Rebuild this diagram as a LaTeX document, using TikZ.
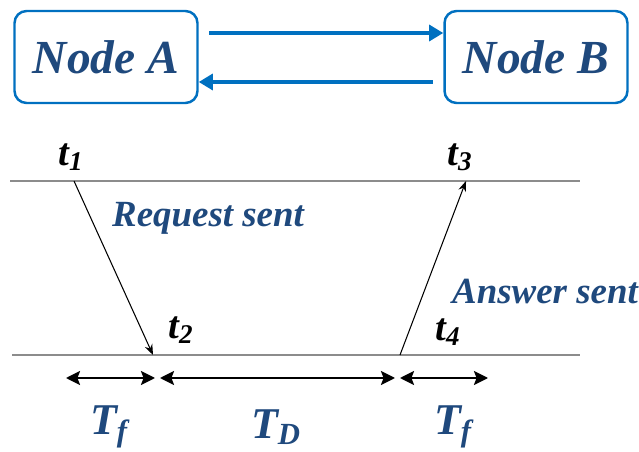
\documentclass[tikz,border=0pt]{standalone}
\usepackage{fontspec}
\setmainfont{Liberation Serif}
\usetikzlibrary{arrows.meta}
\definecolor{boxblue}{RGB}{0,112,192}
\definecolor{txtblue}{RGB}{31,73,125}
\tikzset{
  nodebox/.style={draw=boxblue,line width=1.4pt,rounded corners=0.24cm,fill=white,
    minimum width=3.66cm,minimum height=1.84cm,text=txtblue,
    font=\fontsize{27}{30}\selectfont\bfseries\itshape},
  linkarrow/.style={draw=boxblue,line width=2.2pt,-{Triangle[length=8pt,width=9pt]}},
  timeline/.style={draw=gray!90,line width=1.3pt},
  msgarrow/.style={draw=black,line width=0.6pt,-{Stealth[length=6pt,width=4.5pt]}},
  spanarrow/.style={draw=black,line width=1.1pt,{Stealth[length=8pt,width=8pt,inset=1.5pt]}-{Stealth[length=8pt,width=8pt,inset=1.5pt]}},
  tlabel/.style={font=\fontsize{22}{24}\selectfont\bfseries\itshape},
  msglabel/.style={text=txtblue,font=\fontsize{21}{24}\selectfont\bfseries\itshape},
  spanlabel/.style={text=txtblue,inner sep=1pt,font=\fontsize{25}{28}\selectfont\bfseries\itshape}
}
\begin{document}
\begin{tikzpicture}[x=0.02cm,y=-0.02cm]
\useasboundingbox (0,0) rectangle (639,452);

% the two nodes
\node[nodebox] (nA) at (106,57) {Node A};
\node[nodebox] (nB) at (536,57) {Node B};
\draw[linkarrow,shorten <=6pt] ([yshift=0.48cm]nA.east) -- ([yshift=0.48cm]nB.west);
\draw[linkarrow,shorten <=6pt] ([yshift=-0.5cm]nB.west) -- ([yshift=-0.5cm]nA.east);

% time lines
\coordinate (topl) at (10,181);
\coordinate (topr) at (580,181);
\coordinate (botl) at (12,355);
\coordinate (botr) at (580,355);
\draw[timeline] (topl) -- (topr);
\draw[timeline] (botl) -- (botr);

\coordinate (t1) at (74,181);
\coordinate (t2) at (153,355);
\coordinate (t3) at (466,181);
\coordinate (t4) at (400,355);
\draw[msgarrow] (t1) -- (t2);
\draw[msgarrow] (t4) -- (t3);

\node[tlabel] (lt1) at (71,157) {t\textsubscript{1}};
\node[tlabel] (lt2) at (181,330) {t\textsubscript{2}};
\node[tlabel] (lt3) at (460,157) {t\textsubscript{3}};
\node[tlabel] (lt4) at (448,332) {t\textsubscript{4}};

\node[msglabel] (req) at (208,218) {Request sent};
\node[msglabel] (ans) at (545,292) {Answer sent};

% spans
\coordinate (s1) at (66,378);
\coordinate (s2) at (155,378);
\coordinate (s3) at (160,378);
\coordinate (s4) at (395,378);
\coordinate (s5) at (400,378);
\coordinate (s6) at (488,378);
\draw[spanarrow] (s1) -- (s2);
\draw[spanarrow] (s3) -- (s4);
\draw[spanarrow] (s5) -- (s6);

\node[spanlabel] (tf1) at (109,427) {T\textsubscript{f}};
\node[spanlabel] (td) at (276,427) {T\textsubscript{D}};
\node[spanlabel] (tf2) at (453,427) {T\textsubscript{f}};
\end{tikzpicture}
\end{document}
